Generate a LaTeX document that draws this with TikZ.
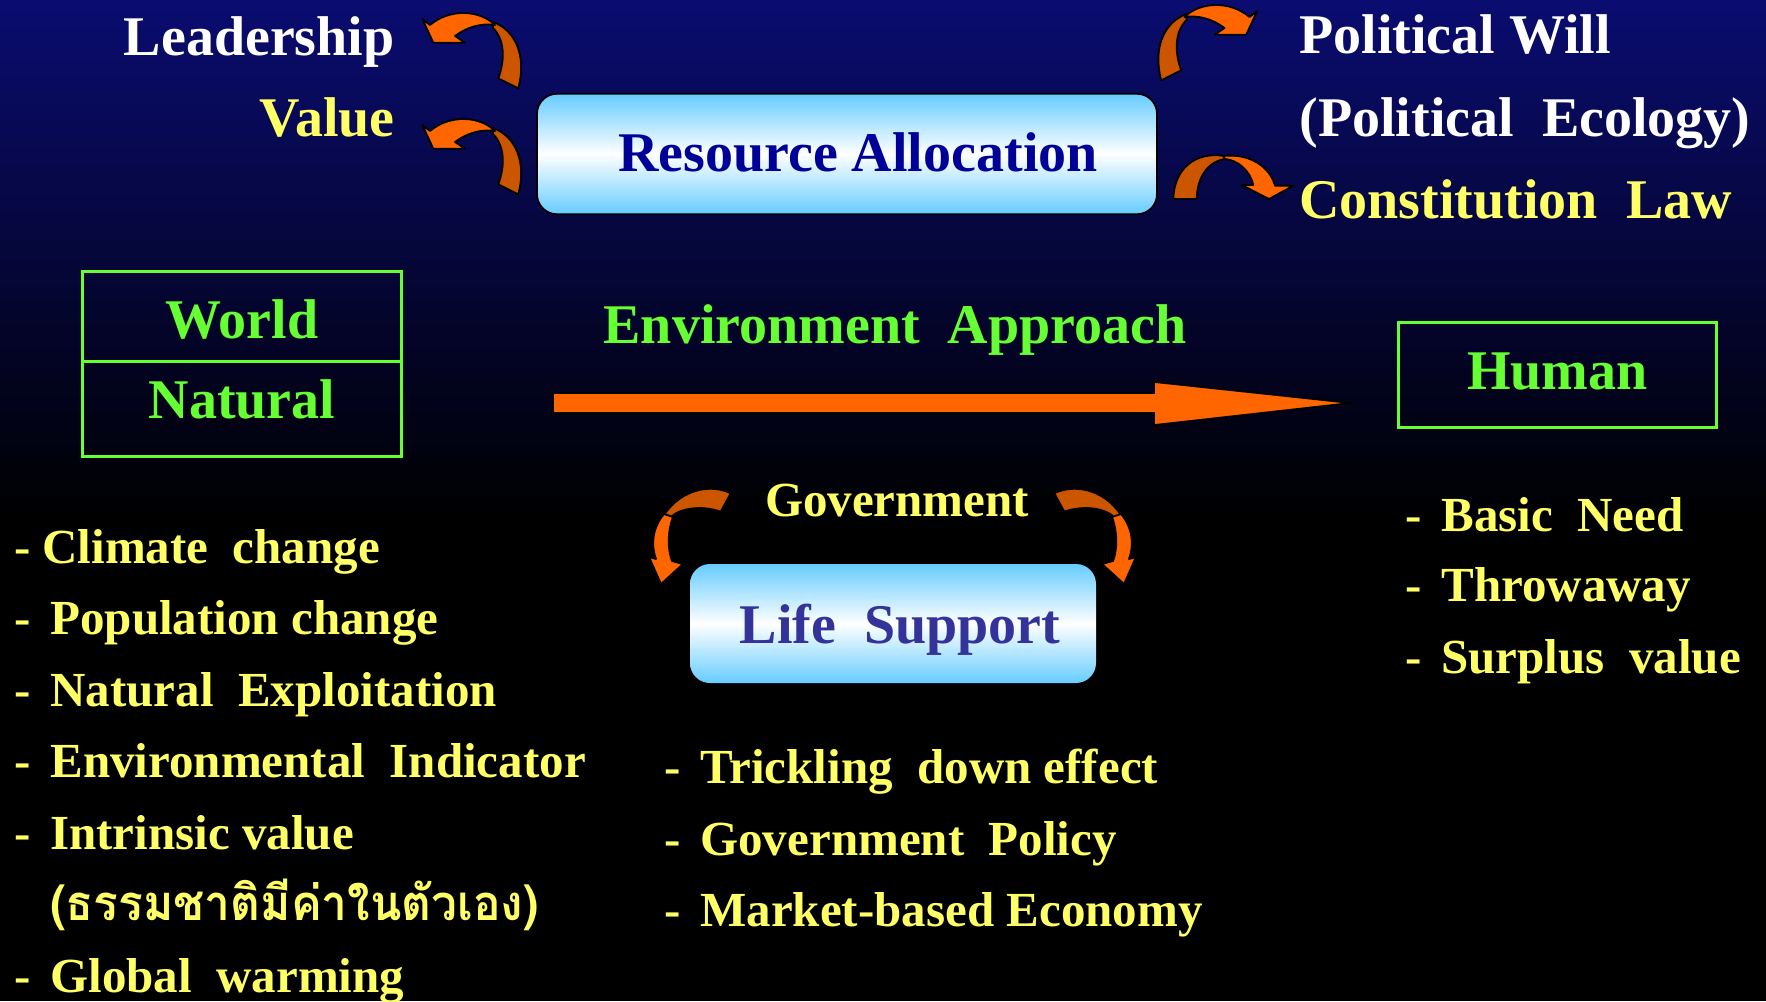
\documentclass[tikz,border=0pt]{standalone}
\usepackage{fontspec}
\usepackage{graphicx}
\setmainfont{Liberation Serif}
\newfontfamily\thaifont[Script=Thai]{Loma}
\usetikzlibrary{calc}
\definecolor{bgtop}{RGB}{10,12,112}
\definecolor{ylw}{RGB}{255,255,102}
\definecolor{grn}{RGB}{102,255,51}
\definecolor{navyt}{RGB}{0,0,153}
\definecolor{lsblue}{RGB}{51,51,153}
\definecolor{orng}{RGB}{255,102,0}
\definecolor{dorng}{RGB}{204,85,0}
\definecolor{skyb}{RGB}{102,204,255}
\newcommand\shapeA{%
  \draw[darkpart] (78,22) .. controls (100,30) and (112,55) .. (103.3,88.3) -- (83.3,78.3) .. controls (90,60) and (90,40) .. (78,28) -- cycle;
  \draw[litepart] (7.3,19) -- (18.3,42.7) -- (50,42.7) -- (40,36) .. controls (52,27) and (66,23) .. (80,25) .. controls (65,10) and (35,8) .. (15,25) -- cycle;
}
\newcommand\shapeC{%
  \draw[darkpart] (80.7,13.3) .. controls (62,4) and (32,8) .. (14,35) -- (21,37) .. controls (30,28) and (52,25) .. (70.7,31.7) -- cycle;
  \draw[litepart] (14,34) .. controls (2,48) and (1,66) .. (6,79) -- (-1,77) -- (11,104) -- (33,84) -- (22,81) .. controls (17,68) and (18,50) .. (23,37) -- cycle;
}
\newcommand\dl[1]{\makebox[18pt][l]{-}#1}
\begin{document}
\begin{tikzpicture}[x=0.5pt,y=-0.5pt,
  big/.style={font=\fontsize{28pt}{33pt}\selectfont\bfseries, inner sep=0pt},
  lst/.style={font=\fontsize{24.5pt}{29pt}\selectfont\bfseries, inner sep=0pt, text=ylw, anchor=base west},
  gbox/.style={draw=grn, line width=1.35pt, inner sep=0pt},
  bluebox/.style={draw=black, line width=0.9pt, rounded corners=10pt, top color=skyb, bottom color=skyb, middle color=white, inner sep=0pt},
  darkpart/.style={fill=dorng, draw=black, line width=0.9pt, line join=round},
  litepart/.style={fill=orng, draw=black, line width=0.9pt, line join=round},
  bigarrow/.style={fill=orng, draw=black, line width=0.8pt, line join=miter}]
\useasboundingbox (0,0) rectangle (1766,1001);
% background
\fill[black] (0,518) rectangle (1766,1001);
\shade[top color=bgtop, bottom color=black] (0,0) rectangle (1766,521);

% curved arrows
\begin{scope}[shift={(415,0)}]\shapeA\end{scope}
\begin{scope}[shift={(415,106)}]\shapeA\end{scope}
\begin{scope}[shift={(1264.5,-8)},xscale=-1]\shapeA\end{scope}
\begin{scope}[shift={(1165,145)}]
  \draw[darkpart] (8.3,54) .. controls (9,24) and (30,6) .. (60,11) -- (60,14) .. controls (45,16) and (32,30) .. (31.7,54) -- cycle;
  \draw[litepart] (58,11) .. controls (85,8) and (105,22) .. (110,40.7) -- (128.3,40.7) -- (104,54) -- (76.7,40) -- (88.3,40) .. controls (85,25) and (72,15) .. (60,14) -- cycle;
\end{scope}
\begin{scope}[shift={(650,480)}]\shapeC\end{scope}
\begin{scope}[shift={(1135,480)},xscale=-1]\shapeC\end{scope}

% top labels
\node[big, text=white, anchor=base east] (lead) at (395,55) {Leadership};
\node[big, text=ylw, anchor=base east] (val) at (395,136) {Value};
\node[big, text=white, anchor=base west] (pw) at (1299,54) {Political Will};
\node[big, text=white, anchor=base west] (pe) at (1299,136) {(Political\ \ Ecology)};
\node[big, text=ylw, anchor=base west] (cl) at (1299,218) {Constitution\ \ Law};

% resource allocation
\node[bluebox, minimum width=310pt, minimum height=60.25pt] (ra) at (847,154) {};
\node[big, text=navyt, anchor=base] (ratx) at (858,171) {Resource Allocation};

% world / natural
\node[gbox, minimum width=159.5pt, minimum height=92.5pt] (wb) at (242.2,364.2) {};
\draw[draw=grn, line width=1.35pt] ($(wb.west)+(0,-2.5)$) -- ($(wb.east)+(0,-2.5)$);
\node[big, text=grn, anchor=base] (world) at (242,338) {World};
\node[big, text=grn, anchor=base] (natural) at (242,418) {Natural};

% environment approach
\node[big, text=grn, anchor=base] (envap) at (895,343.5) {Environment\ \ Approach};
\coordinate (ea) at (553,403);
\coordinate (eb) at (1350,403);
\draw[bigarrow] (ea) ++(0,-10) -- ++(601,0) -- ++(0,-11) -- (eb) -- ++(-196,22) -- ++(0,-12) -- ++(-601,0) -- cycle;

% human
\node[gbox, minimum width=159.2pt, minimum height=52.3pt] (hb) at (1557.5,375) {};
\node[big, text=grn, anchor=base] (human) at (1557.5,389) {Human};

% government / life support
\node[big, font=\fontsize{24.5pt}{29pt}\selectfont\bfseries, text=ylw, anchor=base] (gov) at (897,516) {Government};
\node[bluebox, draw=none, minimum width=203pt, minimum height=59.5pt] (ls) at (893,623.5) {};
\node[big, text=lsblue, anchor=base] (lstx) at (900,643) {Life\ \ Support};

% left list
\node[lst] (l1) at (14,563) {\makebox[14pt][l]{-}Climate\ \ change};
\node[lst] (l2) at (14,634.5) {\dl{Population change}};
\node[lst] (l3) at (14,706) {\dl{Natural\ \ Exploitation}};
\node[lst] (l4) at (14,777.5) {\dl{Environmental\ \ Indicator}};
\node[lst] (l5) at (14,849) {\dl{Intrinsic value}};
\node[lst] (l6) at (50,920.5) {\scalebox{0.94}[1]{\thaifont\bfseries (ธรรมชาติมีค่าในตัวเอง)}};
\node[lst] (l7) at (14,992) {\dl{Global\ \ warming}};

% middle list
\node[lst] (m1) at (664,783) {\dl{Trickling\ \ down effect}};
\node[lst] (m2) at (664,855) {\dl{Government\ \ Policy}};
\node[lst] (m3) at (664,926) {\dl{Market-based Economy}};

% right list
\node[lst] (r1) at (1405,531) {\dl{Basic\ \ Need}};
\node[lst] (r2) at (1405,601) {\dl{Throwaway}};
\node[lst] (r3) at (1405,673) {\dl{Surplus\ \ value}};
\end{tikzpicture}
\end{document}
